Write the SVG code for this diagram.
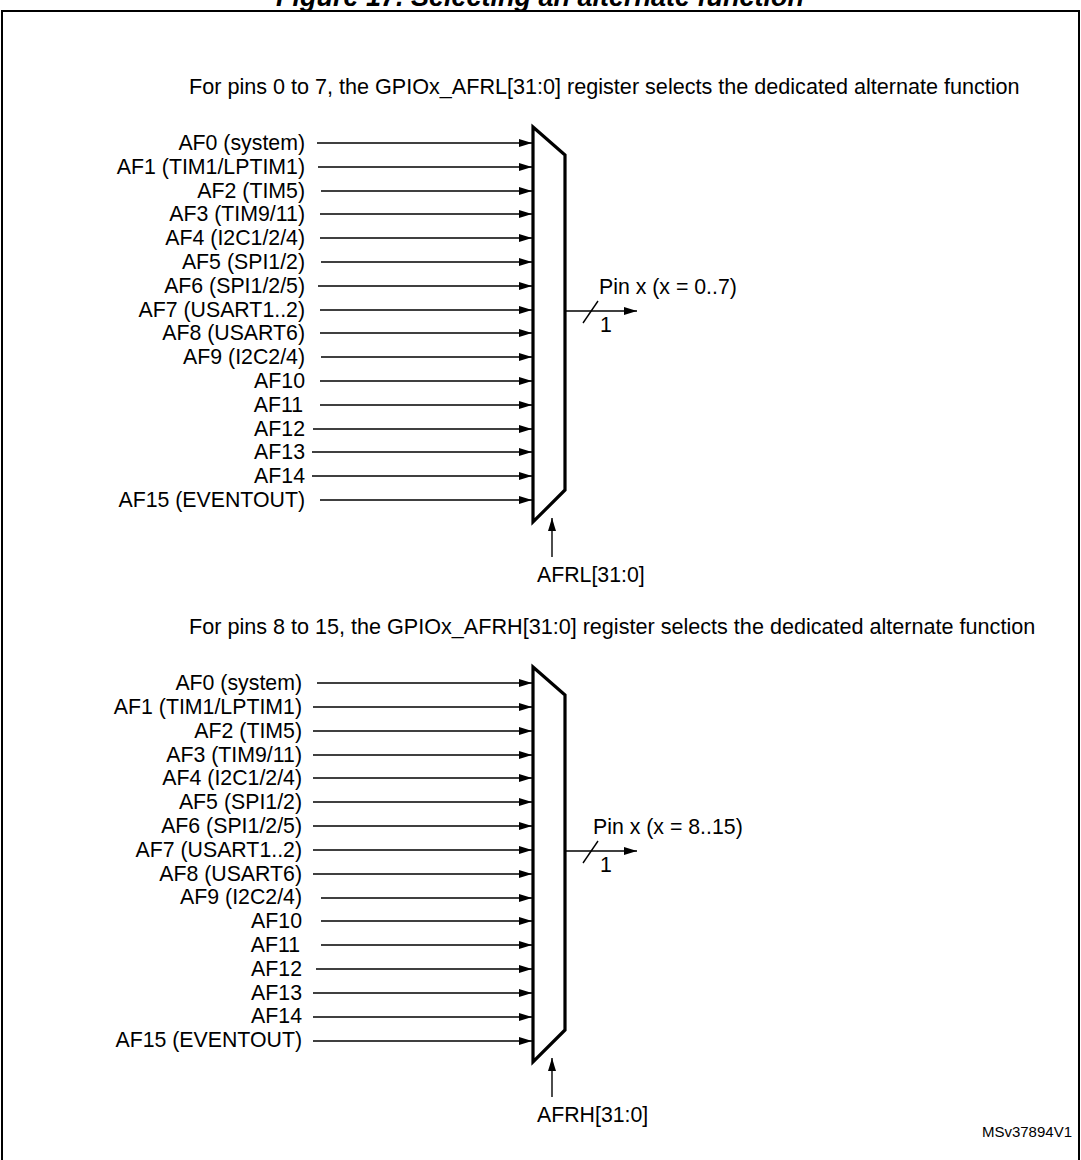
<svg xmlns="http://www.w3.org/2000/svg" width="1081" height="1160" viewBox="0 0 1081 1160">
<defs>
<marker id="ah" viewBox="0 0 13 8" refX="13" refY="4" markerWidth="13" markerHeight="8" markerUnits="userSpaceOnUse" orient="auto"><path d="M0,0 L13,4 L0,8 z" fill="#000"/></marker>
<style>
text{font-family:"Liberation Sans",Arial,Helvetica,sans-serif;font-size:21.3px;fill:#000}
.lbl{text-anchor:end}
.hdr{font-size:21.6px}
.title{font-weight:bold;font-style:italic;font-size:27px;text-anchor:middle}
.small{font-size:15px;text-anchor:end}
.mux{fill:none;stroke:#000;stroke-width:3.2;stroke-linejoin:miter}
.w{stroke:#000;stroke-width:1.4;fill:none}
.wa{stroke:#000;stroke-width:1.4;fill:none;marker-end:url(#ah)}
.frame{fill:none;stroke:#000;stroke-width:2}
</style>
</defs>
<rect width="1081" height="1160" fill="#fff"/>
<text class="title" x="540" y="6">Figure 17. Selecting an alternate function</text>
<rect class="frame" x="2" y="11" width="1077" height="1160"/>

<text class="hdr" x="189" y="94">For pins 0 to 7, the GPIOx_AFRL[31:0] register selects the dedicated alternate function</text>
<text class="hdr" x="189" y="634">For pins 8 to 15, the GPIOx_AFRH[31:0] register selects the dedicated alternate function</text>

<g id="mux-low">
<polygon class="mux" points="533,127 565,155 565,490 533,522"/>
</g>
<g id="mux-high">
<polygon class="mux" points="533,667 565,695 565,1030 533,1062"/>
</g>

<g id="labels-low">
<text class="lbl" x="305" y="150">AF0 (system)</text>
<text class="lbl" x="305" y="174">AF1 (TIM1/LPTIM1)</text>
<text class="lbl" x="305" y="198">AF2 (TIM5)</text>
<text class="lbl" x="305" y="221">AF3 (TIM9/11)</text>
<text class="lbl" x="305" y="245">AF4 (I2C1/2/4)</text>
<text class="lbl" x="305" y="269">AF5 (SPI1/2)</text>
<text class="lbl" x="305" y="293">AF6 (SPI1/2/5)</text>
<text class="lbl" x="305" y="317">AF7 (USART1..2)</text>
<text class="lbl" x="305" y="340">AF8 (USART6)</text>
<text class="lbl" x="305" y="364">AF9 (I2C2/4)</text>
<text class="lbl" x="305" y="388">AF10</text>
<text class="lbl" x="303" y="412">AF11</text>
<text class="lbl" x="305" y="436">AF12</text>
<text class="lbl" x="305" y="459">AF13</text>
<text class="lbl" x="305" y="483">AF14</text>
<text class="lbl" x="305" y="507">AF15 (EVENTOUT)</text>
</g>
<g id="labels-high">
<text class="lbl" x="302" y="690">AF0 (system)</text>
<text class="lbl" x="302" y="714">AF1 (TIM1/LPTIM1)</text>
<text class="lbl" x="302" y="738">AF2 (TIM5)</text>
<text class="lbl" x="302" y="762">AF3 (TIM9/11)</text>
<text class="lbl" x="302" y="785">AF4 (I2C1/2/4)</text>
<text class="lbl" x="302" y="809">AF5 (SPI1/2)</text>
<text class="lbl" x="302" y="833">AF6 (SPI1/2/5)</text>
<text class="lbl" x="302" y="857">AF7 (USART1..2)</text>
<text class="lbl" x="302" y="881">AF8 (USART6)</text>
<text class="lbl" x="302" y="904">AF9 (I2C2/4)</text>
<text class="lbl" x="302" y="928">AF10</text>
<text class="lbl" x="300" y="952">AF11</text>
<text class="lbl" x="302" y="976">AF12</text>
<text class="lbl" x="302" y="1000">AF13</text>
<text class="lbl" x="302" y="1023">AF14</text>
<text class="lbl" x="302" y="1047">AF15 (EVENTOUT)</text>
</g>

<g id="out-low">
<text x="599" y="294">Pin x (x = 0..7)</text>
<text x="600" y="332">1</text>
</g>
<g id="out-high">
<text x="593" y="834">Pin x (x = 8..15)</text>
<text x="600" y="872">1</text>
</g>
<g id="sel-low"><text x="537" y="582">AFRL[31:0]</text></g>
<g id="sel-high"><text x="537" y="1122">AFRH[31:0]</text></g>
<g id="ref"><text class="small" x="1072" y="1137">MSv37894V1</text></g>

<g id="connectors">
<path class="wa" d="M317,143H532"/>
<path class="wa" d="M318,167H532"/>
<path class="wa" d="M321,191H532"/>
<path class="wa" d="M320,214H532"/>
<path class="wa" d="M320,238H532"/>
<path class="wa" d="M321,262H532"/>
<path class="wa" d="M318,286H532"/>
<path class="wa" d="M320,310H532"/>
<path class="wa" d="M320,333H532"/>
<path class="wa" d="M321,357H532"/>
<path class="wa" d="M320,381H532"/>
<path class="wa" d="M320,405H532"/>
<path class="wa" d="M313,429H532"/>
<path class="wa" d="M312,452H532"/>
<path class="wa" d="M312,476H532"/>
<path class="wa" d="M320,500H532"/>

<path class="wa" d="M317,683H532"/>
<path class="wa" d="M313,707H532"/>
<path class="wa" d="M313,731H532"/>
<path class="wa" d="M313,755H532"/>
<path class="wa" d="M313,778H532"/>
<path class="wa" d="M313,802H532"/>
<path class="wa" d="M313,826H532"/>
<path class="wa" d="M313,850H532"/>
<path class="wa" d="M313,874H532"/>
<path class="wa" d="M321,898H532"/>
<path class="wa" d="M321,921H532"/>
<path class="wa" d="M321,945H532"/>
<path class="wa" d="M316,969H532"/>
<path class="wa" d="M313,993H532"/>
<path class="wa" d="M313,1017H532"/>
<path class="wa" d="M313,1041H532"/>

<path class="wa" d="M566,311H637"/>
<path class="w" d="M583,323L598,301"/>
<path class="wa" d="M566,851H637"/>
<path class="w" d="M583,863L598,841"/>

<path class="wa" d="M552,557V518"/>
<path class="wa" d="M552,1097V1058"/>
</g>
</svg>
